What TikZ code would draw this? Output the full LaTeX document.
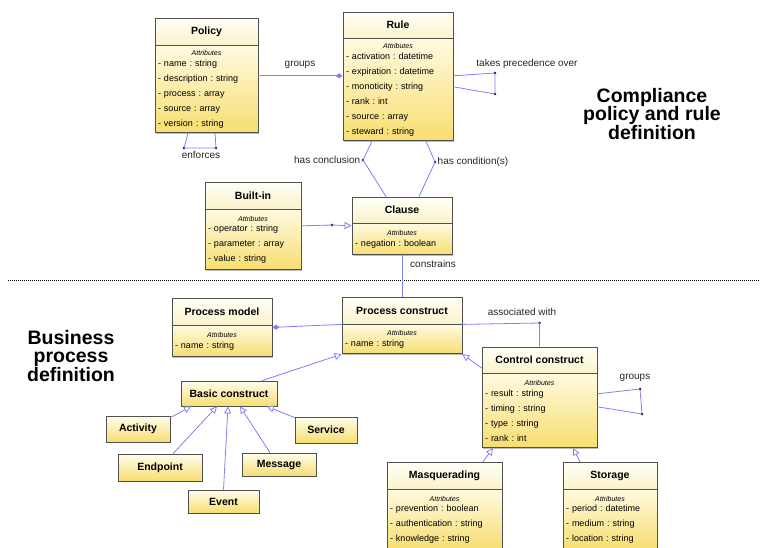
\documentclass[tikz,border=0pt]{standalone}
\usepackage{fontspec}
\setmainfont{Liberation Sans}
\usetikzlibrary{arrows.meta,shadows}
\frenchspacing

\definecolor{umlline}{RGB}{128,128,250}
\definecolor{umlborder}{RGB}{80,80,80}
\definecolor{headtop}{RGB}{255,255,247}
\definecolor{headbot}{RGB}{251,243,204}
\definecolor{bodytop}{RGB}{255,250,224}
\definecolor{bodybot}{RGB}{247,222,112}

\newcommand{\attrhead}{\makebox[\hsize][c]{\fontsize{7}{8}\selectfont\itshape Attributes}\\[-4.5pt]}

\tikzset{
  boxshadow/.style={drop shadow={shadow xshift=1.2pt, shadow yshift=-1.2pt, fill=black!45, opacity=0.6}},
  classhead/.style={draw=umlborder, line width=0.8pt, top color=headtop, bottom color=headbot,
    font=\fontsize{10.5}{12}\selectfont\bfseries, inner sep=0pt, boxshadow},
  classbody/.style={draw=umlborder, line width=0.8pt, top color=bodytop, bottom color=bodybot,
    font=\fontsize{9}{15}\selectfont, align=left, inner xsep=3pt, inner ysep=2pt, anchor=north, boxshadow},
  classbox/.style={draw=umlborder, line width=0.8pt, top color=headtop!60!bodytop, bottom color=bodybot,
    font=\fontsize{10.5}{12}\selectfont\bfseries, inner sep=0pt, boxshadow},
  assoc/.style={draw=umlline, line width=0.8pt},
  gen/.style={assoc, -{Triangle[open, fill=white, length=7pt, width=7pt]}},
  owns/.style={assoc, -{Diamond[fill=umlline, length=7pt, width=5pt]}},
  dot/.style={circle, fill=black, inner sep=0pt, minimum size=2.6pt},
  lbl/.style={font=\fontsize{10}{12}\selectfont, text=black!85, inner sep=1pt},
  title/.style={font=\fontsize{19.5}{18.5}\selectfont\bfseries, align=center},
  separator/.style={line width=0.7pt, dash pattern=on 1pt off 1pt}
}

\begin{document}
\begin{tikzpicture}[x=1pt, y=-1pt]
    \path[use as bounding box, fill=white] (0, 0) rectangle (760, 547);

    \node[classhead, minimum width=103pt, minimum height=27pt] (policy) at (206.5, 31.5) {Policy};
    \node[classbody, text width=97pt, minimum height=87pt] (policyattr) at (policy.south) {\attrhead
        - name : string\\ - description : string\\ - process : array\\ - source : array\\ - version : string};

    \node[classhead, minimum width=110pt, minimum height=26pt] (rule) at (398, 25) {Rule};
    \node[classbody, text width=104pt, minimum height=102pt] (ruleattr) at (rule.south) {\attrhead
        - activation : datetime\\ - expiration : datetime\\ - monoticity : string\\ - rank : int\\ - source : array\\ - steward : string};

    \node[classhead, minimum width=96pt, minimum height=27pt] (builtin) at (253, 195.5) {Built-in};
    \node[classbody, text width=90pt, minimum height=60pt] (builtinattr) at (builtin.south) {\attrhead
        - operator : string\\ - parameter : array\\ - value : string};

    \node[classhead, minimum width=100pt, minimum height=26pt] (clause) at (402, 210) {Clause};
    \node[classbody, text width=94pt, minimum height=31pt] (clauseattr) at (clause.south) {\attrhead
        - negation : boolean};

    \node[classhead, minimum width=100pt, minimum height=27pt] (pm) at (222, 311.5) {Process model};
    \node[classbody, text width=94pt, minimum height=31pt] (pmattr) at (pm.south) {\attrhead
        - name : string};

    \node[classhead, minimum width=120pt, minimum height=27pt] (pc) at (402, 310.5) {Process construct};
    \node[classbody, text width=114pt, minimum height=29pt] (pcattr) at (pc.south) {\attrhead
        - name : string};

    \node[classhead, minimum width=115pt, minimum height=26pt] (cc) at (539.5, 360) {Control construct};
    \node[classbody, text width=109pt, minimum height=74pt] (ccattr) at (cc.south) {\attrhead
        - result : string\\ - timing : string\\ - type : string\\ - rank : int};

    \node[classhead, minimum width=115pt, minimum height=27pt] (masq) at (444.5, 475.5) {Masquerading};
    \node[classbody, text width=109pt, minimum height=60pt] (masqattr) at (masq.south) {\attrhead
        - prevention : boolean\\ - authentication : string\\ - knowledge : string};

    \node[classhead, minimum width=94pt, minimum height=27pt] (storage) at (610, 475.5) {Storage};
    \node[classbody, text width=88pt, minimum height=60pt] (storageattr) at (storage.south) {\attrhead
        - period : datetime\\ - medium : string\\ - location : string};

    \node[classbox, minimum width=96pt, minimum height=25pt] (basic) at (229, 393.5) {Basic construct};
    \node[classbox, minimum width=64pt, minimum height=26pt] (activity) at (138, 429) {Activity};
    \node[classbox, minimum width=84pt, minimum height=27pt] (endpoint) at (160, 467.5) {Endpoint};
    \node[classbox, minimum width=71pt, minimum height=23pt] (event) at (223.5, 501.5) {Event};
    \node[classbox, minimum width=74pt, minimum height=23pt] (message) at (279, 464.5) {Message};
    \node[classbox, minimum width=62pt, minimum height=26pt] (service) at (326, 430) {Service};

    \node[title] (compliance) at (652, 114) {Compliance\\policy and rule\\definition};
    \node[title] (business) at (71, 356) {Business\\process\\definition};

    \draw[separator] (8, 280) -- (760, 280);

    \node[dot] (enf1) at (184, 148) {};
    \node[dot] (enf2) at (216, 148) {};
    \node[dot] (prec1) at (495, 73) {};
    \node[dot] (prec2) at (495, 94) {};
    \node[dot] (concl) at (363, 160) {};
    \node[dot] (cond) at (435, 162) {};
    \node[dot] (bidot) at (332, 225) {};
    \node[dot] (assocdot) at (539.5, 323) {};
    \node[dot] (grp1) at (640, 389) {};
    \node[dot] (grp2) at (642, 414) {};

    \coordinate (grpstart) at ([yshift=13.5pt]policyattr.east);
    \draw[owns] (grpstart) -- (grpstart -| ruleattr.west);
    \draw[assoc] ([xshift=-18.5pt]policyattr.south) -- (enf1.center) -- (enf2.center) -- ([xshift=8.5pt]policyattr.south);
    \draw[assoc] ([yshift=14pt]ruleattr.east) -- (prec1.center) -- (prec2.center) -- ([yshift=3pt]ruleattr.east);
    \draw[assoc] ([xshift=-26pt]ruleattr.south) -- (concl.center) -- ([xshift=-16pt]clause.north);
    \draw[assoc] ([xshift=28pt]ruleattr.south) -- (cond.center) -- ([xshift=17pt]clause.north);
    \coordinate (bistart) at ([yshift=14pt]builtinattr.east);
    \draw[gen] (bistart) -- (bidot.center) -- (bistart -| clause.west);
    \draw[assoc] (clauseattr.south) -- (pc.north);

    \draw[owns] (pc.south west) -- ([yshift=-2pt]pmattr.north east);
    \draw[assoc] (pc.south east) -- (assocdot.center) -- (cc.north);
    \draw[assoc] ([yshift=17pt]ccattr.east) -- (grp1.center) -- (grp2.center) -- ([yshift=4pt]ccattr.east);
    \draw[gen] ([yshift=-8pt]cc.west) -- (pcattr.south east);
    \draw[gen] ([xshift=33pt]basic.north) -- (pcattr.south west);
    \draw[gen] ([xshift=38.5pt]masq.north) -- ([xshift=-46.5pt]ccattr.south);
    \draw[gen] ([xshift=-30pt]storage.north) -- ([xshift=33.5pt]ccattr.south);

    \draw[gen] ([yshift=-2pt]activity.north east) -- ([xshift=-38pt]basic.south);
    \draw[gen] ([xshift=13pt]endpoint.north) -- ([xshift=-12pt]basic.south);
    \draw[gen] (event.north) -- ([xshift=-1pt]basic.south);
    \draw[gen] ([xshift=-9pt]message.north) -- ([xshift=11pt]basic.south);
    \draw[gen] ([yshift=-1pt]service.north west) -- ([xshift=38pt]basic.south);

    \node[lbl] (groupslbl) at (300, 65) {groups};
    \node[lbl] (enforceslbl) at (201, 155) {enforces};
    \node[lbl] (preclbl) at (527, 64) {takes precedence over};
    \node[lbl, anchor=east] (concllbl) at (concl.west) {has conclusion};
    \node[lbl, anchor=west] (condlbl) at (cond.east) {has condition(s)};
    \node[lbl] (constrainslbl) at (433, 264) {constrains};
    \node[lbl] (assoclbl) at (522, 312) {associated with};
    \node[lbl] (ccgroupslbl) at (635, 378) {groups};
\end{tikzpicture}
\end{document}
